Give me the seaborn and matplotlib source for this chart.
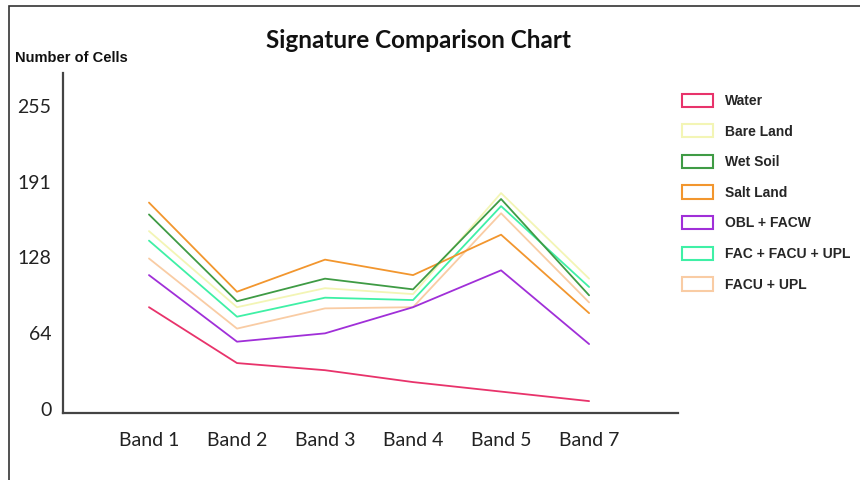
import matplotlib
matplotlib.use("Agg")
import matplotlib.pyplot as plt
from matplotlib.patches import Patch, Rectangle
import seaborn as sns
import pandas as pd

bands = ["Band 1", "Band 2", "Band 3", "Band 4", "Band 5", "Band 7"]
classes = ["Water", "Bare Land", "Wet Soil", "Salt Land", "OBL + FACW",
           "FAC + FACU + UPL", "FACU + UPL"]
water = [86, 39, 33, 23, 15, 7]
bare_land = [150, 86, 102, 97, 182, 110]
wet_soil = [164, 91, 110, 101, 177, 96]
salt_land = [174, 99, 126, 113, 147, 81]
obl_facw = [113, 57, 64, 86, 117, 55]
fac_facu_upl = [142, 78, 94, 92, 171, 103]
facu_upl = [127, 68, 85, 86, 165, 90]
yticks = [0, 64, 128, 191, 255]

colors = ["#e8336b", "#f3f5b5", "#3f9b45", "#f2962e", "#a02fd8", "#3ff0a6", "#f9cca4"]

series = [water, bare_land, wet_soil, salt_land, obl_facw, fac_facu_upl, facu_upl]
rows = []
for name, vals in zip(classes, series):
    for b, v in zip(bands, vals):
        rows.append({"Band": b, "Cells": v, "Class": name})
df = pd.DataFrame(rows)

sns.set_style("white")
plt.rcParams["font.family"] = ["Lato", "DejaVu Sans"]

fig = plt.figure(figsize=(8.6, 4.8), dpi=100)
ax = fig.add_axes([62.7 / 860, 1 - 413 / 480, (678 - 62.7) / 860, (413 - 73) / 480])

draw_order = ["Bare Land", "FACU + UPL", "FAC + FACU + UPL", "Salt Land",
              "Wet Soil", "OBL + FACW", "Water"]
palette = dict(zip(classes, colors))
sns.lineplot(data=df, x="Band", y="Cells", hue="Class", hue_order=draw_order,
             palette=palette, sort=False, linewidth=1.3, legend=False, ax=ax)

ax.set_xlim(-0.98, 6.01)
ax.set_ylim(-3, 283)
ax.set_yticks(yticks)
ax.set_yticklabels([str(t) for t in yticks], fontsize=14, color="#222222")
ax.set_xticks(range(len(bands)))
ax.set_xticklabels(bands, fontsize=14, color="#222222")
ax.tick_params(axis="y", length=0, pad=8)
ax.tick_params(axis="x", direction="in", length=2.5, width=1, color="#333333", pad=14)
ax.set_xlabel("")
ax.set_ylabel("")
for s in ["top", "right"]:
    ax.spines[s].set_visible(False)
for s in ["left", "bottom"]:
    ax.spines[s].set_color("#444444")
    ax.spines[s].set_linewidth(1.6)

fig.text(419 / 860, 1 - 40 / 480, "Signature Comparison Chart", ha="center",
         va="center", fontsize=17.5, fontweight="bold", color="#111111")
fig.text(15 / 860, 1 - 58 / 480, "Number of Cells", ha="left", va="center",
         fontsize=10.5, fontweight="bold", family=["Liberation Sans"], color="#111111")

handles = [Patch(facecolor="white", edgecolor=c, linewidth=1.5, label=n)
           for n, c in zip(classes, colors)]
fig.legend(handles=handles, loc="upper left",
           bbox_to_anchor=(669 / 860, 1 - 81 / 480), frameon=False,
           prop={"family": "Liberation Sans", "weight": "bold", "size": 10},
           handlelength=2.3, handleheight=1.1, labelspacing=1.17,
           handletextpad=0.8)

fig.add_artist(Rectangle((9 / 860, -0.5), 2.0, 1.5 - 6 / 480,
                         transform=fig.transFigure, fill=False,
                         edgecolor="#333333", linewidth=1.2))

fig.savefig("out.png", dpi=100)
